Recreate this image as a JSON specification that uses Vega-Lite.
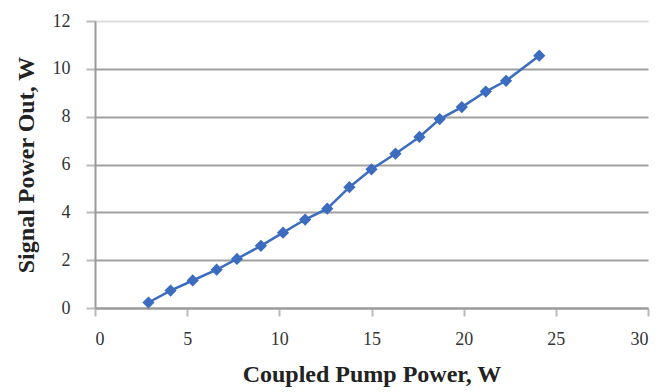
{
  "$schema": "https://vega.github.io/schema/vega-lite/v6.json",
  "width": 553,
  "height": 287,
  "autosize": "none",
  "padding": {"left": 95, "top": 21, "right": 16, "bottom": 84},
  "background": "white",
  "config": {"view": {"stroke": null}},
  "data": {"values": [
    {"pump": 2.9, "signal": 0.23},
    {"pump": 4.1, "signal": 0.73},
    {"pump": 5.3, "signal": 1.15},
    {"pump": 6.6, "signal": 1.6},
    {"pump": 7.7, "signal": 2.05},
    {"pump": 9.0, "signal": 2.6},
    {"pump": 10.2, "signal": 3.15},
    {"pump": 11.4, "signal": 3.7},
    {"pump": 12.6, "signal": 4.15},
    {"pump": 13.8, "signal": 5.05},
    {"pump": 15.0, "signal": 5.8},
    {"pump": 16.3, "signal": 6.45},
    {"pump": 17.6, "signal": 7.15},
    {"pump": 18.7, "signal": 7.9},
    {"pump": 19.9, "signal": 8.4},
    {"pump": 21.2, "signal": 9.05},
    {"pump": 22.3, "signal": 9.5},
    {"pump": 24.1, "signal": 10.55}
  ]},
  "mark": {"type": "line", "color": "#3b6cc0", "strokeWidth": 2.5, "point": {"shape": "diamond", "size": 150, "filled": true, "color": "#3b6cc0"}},
  "encoding": {
    "x": {"field": "pump", "type": "quantitative",
      "scale": {"domain": [0, 30], "nice": false, "zero": true},
      "axis": {"values": [0, 5, 10, 15, 20, 25, 30], "title": "Coupled Pump Power, W", "grid": false,
        "domain": true, "domainColor": "#999999", "domainWidth": 2, "tickColor": "#bbbbbb", "tickSize": 8, "tickWidth": 2,
        "labelFont": "Liberation Serif", "labelFontSize": 18, "labelColor": "#333333", "labelPadding": 14,
        "titleFont": "Liberation Serif", "titleFontSize": 24, "titleFontWeight": "bold", "titleColor": "#222222", "titlePadding": 14}},
    "y": {"field": "signal", "type": "quantitative",
      "scale": {"domain": [0, 12], "nice": false},
      "axis": {"values": [0, 2, 4, 6, 8, 10, 12], "title": "Signal Power Out, W", "grid": true,
        "gridColor": {"condition": {"test": "datum.value === 12", "value": "#dddddd"}, "value": "#a0a0a0"}, "gridWidth": 2,
        "domain": true, "domainColor": "#999999", "domainWidth": 2, "tickColor": "#bbbbbb", "tickSize": 9, "tickWidth": 2,
        "labelFont": "Liberation Serif", "labelFontSize": 18, "labelColor": "#333333", "labelPadding": 16,
        "titleFont": "Liberation Serif", "titleFontSize": 24, "titleFontWeight": "bold", "titleColor": "#222222", "titlePadding": 14}}
  }
}
